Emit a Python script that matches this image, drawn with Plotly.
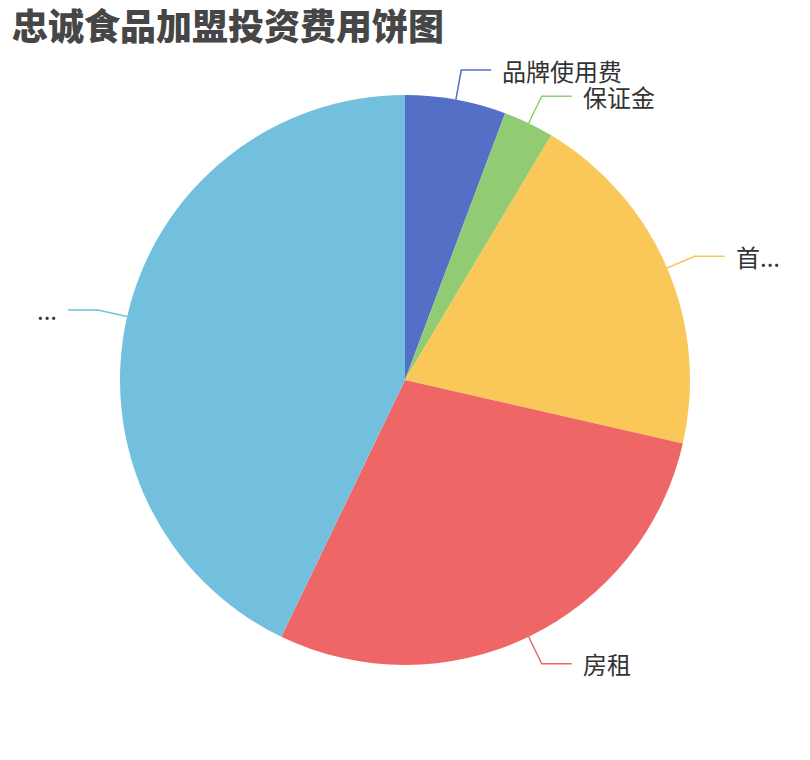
import math
import plotly.graph_objects as go

# Data
categories = ["品牌使用费", "保证金", "首...", "房租", "..."]
values = [2, 1, 7, 10, 15]
colors = ["#5470c6", "#91cc75", "#fac858", "#ee6666", "#73c0de"]
title_text = "忠诚食品加盟投资费用饼图"

W, H = 810, 760
OFF = 8  # page body margin
CX, CY, R = 405, 380, 285
L1, L2, GAP = 30, 30, 9

def px(x):
    return (x - OFF) / W

def py(y):
    return 1 - (y - OFF) / H

fig = go.Figure()
fig.add_trace(go.Pie(
    labels=categories,
    values=values,
    marker=dict(colors=colors, line=dict(width=0)),
    sort=False,
    direction="clockwise",
    rotation=0,
    textinfo="none",
    hoverinfo="skip",
    showlegend=False,
    domain=dict(x=[px(CX - R), px(CX + R)], y=[py(CY + R), py(CY - R)]),
))

total = sum(values)
cum = 0
shapes = []
annotations = []
for cat, v, c in zip(categories, values, colors):
    mid = (cum + v / 2) / total * 2 * math.pi
    cum += v
    s, co = math.sin(mid), math.cos(mid)
    x0, y0 = CX + R * s, CY - R * co
    x1, y1 = CX + (R + L1) * s, CY - (R + L1) * co
    right = s >= 0
    x2 = x1 + (L2 if right else -L2)
    path = f"M {px(x0)} {py(y0)} L {px(x1)} {py(y1)} L {px(x2)} {py(y1)}"
    shapes.append(dict(type="path", xref="paper", yref="paper", path=path,
                       line=dict(color=c, width=1.5)))
    annotations.append(dict(
        x=px(x2 + (GAP if right else -GAP)), y=py(y1), xref="paper", yref="paper",
        text=cat, showarrow=False,
        xanchor="left" if right else "right", yanchor="middle",
        font=dict(family="Noto Sans CJK SC", size=24, color="#333333"),
    ))

annotations.append(dict(
    x=px(10), y=py(24), xref="paper", yref="paper", text=title_text,
    showarrow=False, xanchor="left", yanchor="middle",
    font=dict(family="Noto Sans CJK SC", size=36, color="#464646", weight=900),
))

fig.update_layout(
    width=W, height=H,
    margin=dict(l=0, r=0, t=0, b=0),
    paper_bgcolor="white", plot_bgcolor="white",
    shapes=shapes, annotations=annotations,
)

fig.write_html("out.html")
